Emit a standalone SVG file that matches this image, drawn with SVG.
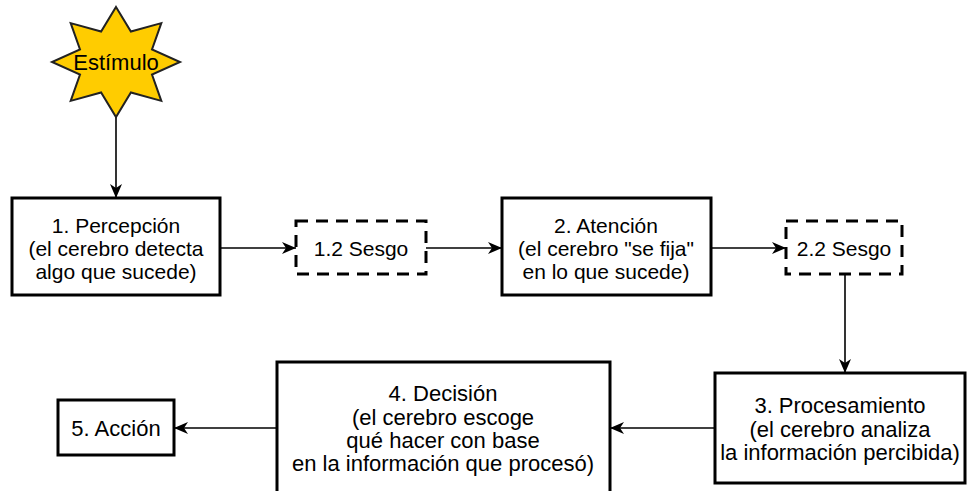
<svg xmlns="http://www.w3.org/2000/svg" width="967" height="491" viewBox="0 0 967 491">
<style>
  .box { fill: #ffffff; stroke: #000000; stroke-width: 3; }
  .dash { fill: #ffffff; stroke: #000000; stroke-width: 3; stroke-dasharray: 12 8; }
  .t { font-family: "Liberation Sans", Arial, sans-serif; font-size: 21px; fill: #000000; text-anchor: middle; dominant-baseline: central; }
  .tb { font-size: 22px; }
  .conn { fill: none; stroke: #000000; stroke-width: 1.6; marker-end: url(#arr); }
</style>
<defs>
  <marker id="arr" viewBox="0 0 14 12" refX="14" refY="6" markerWidth="14" markerHeight="12" markerUnits="userSpaceOnUse" orient="auto">
    <path d="M0,0 L14,6 L0,12 L4,6 Z" fill="#000000"/>
  </marker>
</defs>
<rect width="967" height="491" fill="#ffffff"/>
<g id="connectors">
  <path class="conn" d="M116,117 L116,198"/>
  <path class="conn" d="M220,248 L296,248"/>
  <path class="conn" d="M426,248 L502,248"/>
  <path class="conn" d="M711,248 L786,248"/>
  <path class="conn" d="M845,274 L845,373"/>
  <path class="conn" d="M715,428 L610,428"/>
  <path class="conn" d="M277,428 L174,428"/>
</g>
<g id="estimulo">
  <polygon points="116,7 130.9,31.5 161.3,23.1 152,49.4 180,62 152,74.6 161.3,100.9 130.9,92.5 116,117 101.1,92.5 70.7,100.9 80,74.6 52,62 80,49.4 70.7,23.1 101.1,31.5" fill="#FFCC00" stroke="#222222" stroke-width="2"/>
  <text class="t tb" x="116" y="62">Estímulo</text>
</g>
<g id="percepcion">
  <rect class="box" x="12" y="198" width="208" height="97"/>
  <text class="t" x="116" y="225">1. Percepción</text>
  <text class="t" x="116" y="248">(el cerebro detecta</text>
  <text class="t" x="116" y="271">algo que sucede)</text>
</g>
<g id="sesgo12">
  <rect class="dash" x="296" y="221" width="130" height="53"/>
  <text class="t" x="361" y="248">1.2 Sesgo</text>
</g>
<g id="atencion">
  <rect class="box" x="502" y="198" width="209" height="97"/>
  <text class="t" x="606" y="225">2. Atención</text>
  <text class="t" x="606" y="248">(el cerebro "se fija"</text>
  <text class="t" x="606" y="271">en lo que sucede)</text>
</g>
<g id="sesgo22">
  <rect class="dash" x="786" y="221" width="116" height="53"/>
  <text class="t" x="844" y="248">2.2 Sesgo</text>
</g>
<g id="procesamiento">
  <rect class="box" x="715" y="373" width="250" height="110"/>
  <text class="t tb" x="840" y="405">3. Procesamiento</text>
  <text class="t tb" x="840" y="429">(el cerebro analiza</text>
  <text class="t tb" x="840" y="452">la información percibida)</text>
</g>
<g id="decision">
  <rect class="box" x="277" y="362" width="333" height="140"/>
  <text class="t tb" x="443" y="393">4. Decisión</text>
  <text class="t tb" x="443" y="417">(el cerebro escoge</text>
  <text class="t tb" x="443" y="440">qué hacer con base</text>
  <text class="t tb" x="443" y="463">en la información que procesó)</text>
</g>
<g id="accion">
  <rect class="box" x="58" y="400" width="116" height="55"/>
  <text class="t tb" x="116" y="428">5. Acción</text>
</g>
</svg>
